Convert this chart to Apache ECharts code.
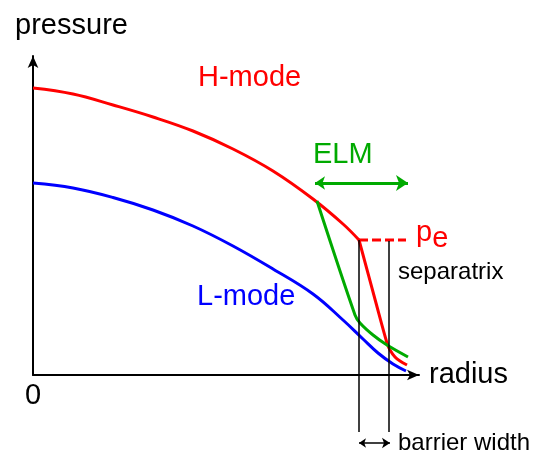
<!DOCTYPE html>
<html>
<head>
<meta charset="utf-8">
<script src="https://cdn.jsdelivr.net/npm/echarts@6/dist/echarts.min.js"></script>
<style>
  html, body { margin: 0; padding: 0; background: #fff; }
  #chart { width: 535px; height: 455px; }
</style>
</head>
<body>
<div id="chart"></div>
<script>
// readings in arbitrary units: [radius, pressure], origin at the axis corner
const hModeCore = [[0, 287], [40, 281], [80, 270], [120, 258], [160, 244], [200, 226], [240, 204], [280, 176], [310, 151], [326, 135]];
const hModeEdge = [[326, 135], [343, 72], [354, 32], [357, 25], [362, 18], [367, 14], [374, 10]];
const lMode = [[0, 192], [40, 187], [80, 177.5], [120, 165], [160, 149], [200, 129], [240, 106], [280, 81], [310, 55], [330, 36], [345, 22], [360, 11], [373, 4]];
const elm = [[284, 174], [322, 60], [327, 52], [340, 40], [354, 30], [375, 18]];
const pedestal = [[326, 135], [373, 135]];
const sepInner = [[326, 135], [326, -57]];
const sepOuter = [[356, 134], [356, -57]];
const elmArrow = [[282, 192], [375, 192]];
const barrierArrow = [[326, -68], [357, -68]];

// annotation text and where it sits
const notes = [
  { name: 'H-mode', value: [165, 297], color: '#ff0000', size: 29 },
  { name: 'L-mode', value: [164, 78], color: '#0000ff', size: 29 },
  { name: 'ELM', value: [280, 220], color: '#00aa00', size: 29 },
  { name: 'pe', value: [383, 142], color: '#ff0000', size: 29 },
  { name: 'separatrix', value: [365, 103], color: '#000000', size: 24 },
  { name: 'barrier width', value: [365, -68], color: '#000000', size: 24 }
];

const FONT = '"Liberation Sans", Arial, sans-serif';

const chart = echarts.init(document.getElementById('chart'));

function curve(name, data, color, smooth) {
  return {
    name: name,
    type: 'line',
    data: data,
    smooth: smooth,
    showSymbol: false,
    symbol: 'none',
    silent: true,
    clip: false,
    lineStyle: { color: color, width: 3 }
  };
}

function arrow(pts, color, width, size) {
  return {
    type: 'lines',
    coordinateSystem: 'cartesian2d',
    silent: true,
    clip: false,
    symbol: ['arrow', 'arrow'],
    symbolSize: size,
    lineStyle: { color: color, width: width, opacity: 1 },
    data: [{ coords: pts }]
  };
}

function segment(data, color, width, type) {
  return {
    type: 'line',
    data: data,
    symbol: 'none',
    silent: true,
    clip: false,
    lineStyle: { color: color, width: width, type: type || 'solid' }
  };
}

const option = {
  animation: false,
  grid: { left: 33, right: 116, top: 56, bottom: 80, containLabel: false },
  xAxis: {
    type: 'value',
    min: 0,
    max: 386,
    interval: 386,
    name: 'radius',
    nameLocation: 'end',
    nameGap: 10,
    nameTextStyle: { fontSize: 29, color: '#000', fontFamily: FONT },
    axisLine: { onZero: true, symbol: ['none', 'arrow'], symbolSize: [8, 12], lineStyle: { color: '#000', width: 2 } },
    axisTick: { show: false },
    splitLine: { show: false },
    axisLabel: {
      fontSize: 29,
      color: '#000',
      fontFamily: FONT,
      margin: 6,
      formatter: function (v) { return v === 0 ? '0' : ''; }
    }
  },
  yAxis: {
    type: 'value',
    min: 0,
    max: 319,
    name: 'pressure',
    nameLocation: 'end',
    nameGap: 16,
    nameTextStyle: { fontSize: 29, color: '#000', fontFamily: FONT, padding: [0, 0, 0, 77] },
    axisLine: { show: true, symbol: ['none', 'arrow'], symbolSize: [8, 12], lineStyle: { color: '#000', width: 2 } },
    axisTick: { show: false },
    axisLabel: { show: false },
    splitLine: { show: false }
  },
  series: [
    curve('H-mode', hModeCore, '#ff0000', 0.4),
    curve('H-mode edge', hModeEdge, '#ff0000', 0.3),
    curve('L-mode', lMode, '#0000ff', 0.4),
    curve('ELM', elm, '#00aa00', 0.3),
    segment(pedestal, '#ff0000', 3, [9, 4]),
    segment(sepInner, '#000', 1.5),
    segment(sepOuter, '#000', 1.5),
    arrow(elmArrow, '#00aa00', 3, [10, 12]),
    arrow(barrierArrow, '#000', 1.5, [7, 8]),
    {
      type: 'scatter',
      symbolSize: 0,
      silent: true,
      clip: false,
      data: notes.map(function (n) {
        return {
          name: n.name,
          value: n.value,
          label: {
            show: true,
            position: 'inside',
            align: 'left',
            verticalAlign: 'middle',
            color: n.color,
            opacity: 1,
            textBorderWidth: 0,
            textShadowBlur: 0,
            fontSize: n.size,
            fontFamily: FONT,
            formatter: n.name === 'pe' ? '{p|p}{e|e}' : '{b}',
            rich: {
              p: { color: n.color, fontSize: 29, fontFamily: FONT, lineHeight: 40, verticalAlign: 'middle' },
              e: { color: n.color, fontSize: 29, fontFamily: FONT, lineHeight: 28, verticalAlign: 'bottom' }
            }
          }
        };
      })
    }
  ]
};

chart.setOption(option);
</script>
</body>
</html>
